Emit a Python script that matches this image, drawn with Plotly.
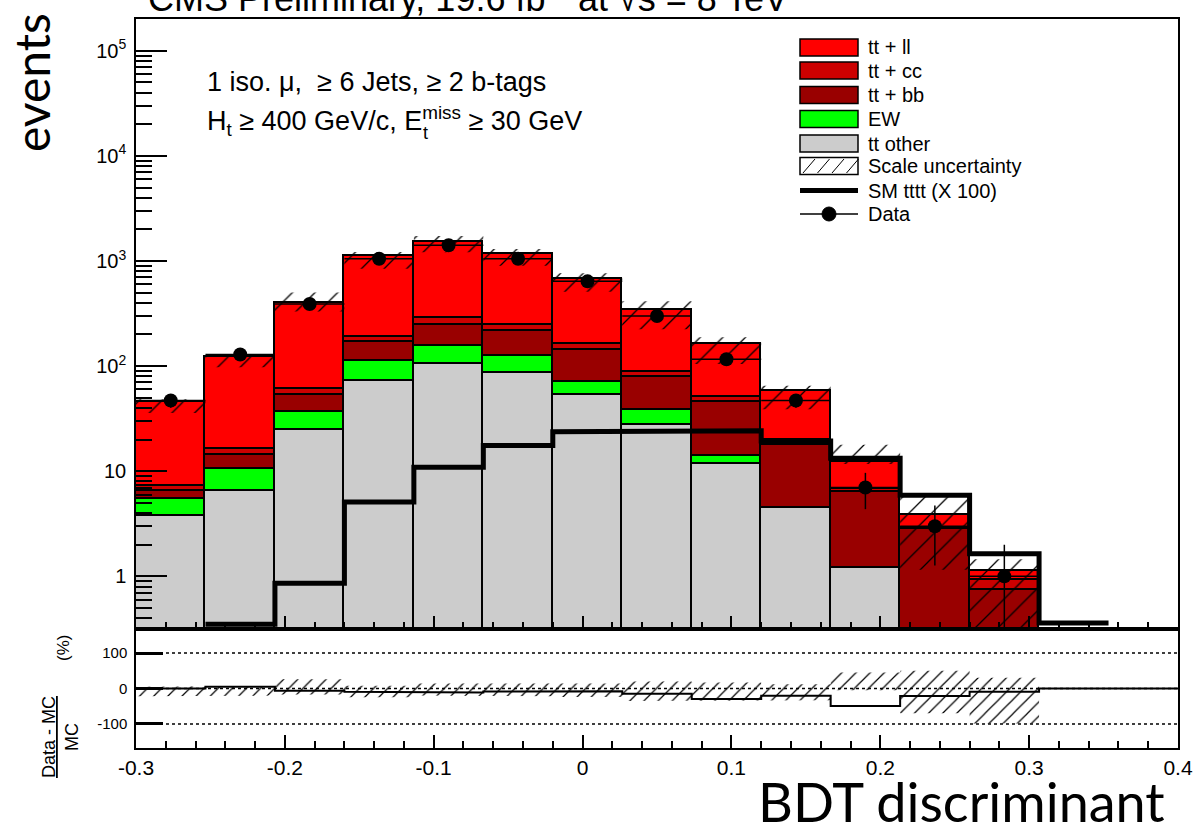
import numpy as np
import plotly.graph_objects as go

# ---------------- data ----------------
bin_edges = [-0.3, -0.25333, -0.20667, -0.16, -0.11333, -0.06667, -0.02, 0.02667,
             0.07333, 0.12, 0.16667, 0.21333, 0.26, 0.30667, 0.35333, 0.4]

tt_other = [3.75, 6.5, 24.6, 72, 105, 86, 53, 27.5, 11.6, 4.5, 1.21, 0, 0, 0, 0]
ew       = [1.7, 4.1, 11.8, 40, 50, 38, 17, 10.7, 2.4, 0, 0, 0, 0, 0, 0]
tt_bb    = [1.05, 3.7, 16.6, 56, 90, 91, 72, 41.3, 31.9, 13.3, 5.2, 2.8, 0.74, 0, 0]
tt_cc    = [0.7, 2.0, 7.0, 22, 39, 30, 22, 8.5, 5.1, 2.1, 0.3, 0.1, 0.19, 0, 0]
tt_ll    = [38.8, 105.7, 339, 936, 1232, 913, 506, 257, 110, 38.1, 5.6, 0.95, 0.19, 0, 0]

sm_tttt_x100 = [None, 0.35, 0.86, 5.1, 10.9, 17.6, 23.8, 24.2, 24.2, 19.4, 13.3, 5.9, 1.64, 0.36, None]

data_counts = [47, 129, 390, 1050, 1410, 1050, 640, 300, 116, 47, 7, 3, 1, None, None]

# scale uncertainty (percent, relative to total MC)
unc_up   = [5, 7, 26, 8, 14, 12, 14, 20, 17, 12, 45, 50, 30, None, None]
unc_down = [-22, -20, -17, -25, -20, -22, -24, -35, -35, -33, -5, -70, -99, None, None]

# (Data - MC)/MC in percent
ratio_pct = [0, 5, -6.5, -9, -11, -8.5, -7.5, -15, -30, -20.5, -49.5, -21.5, -9, 0, 0]

x_tick_vals = [-0.3, -0.2, -0.1, 0, 0.1, 0.2, 0.3, 0.4]
x_tick_text = ["-0.3", "-0.2", "-0.1", "0", "0.1", "0.2", "0.3", "0.4"]

legend_labels = ["tt + ll", "tt + cc", "tt + bb", "EW", "tt other",
                 "Scale uncertainty", "SM tttt (X 100)", "Data"]

# ---------------- helpers ----------------
edges = np.array(bin_edges)
centers = 0.5 * (edges[:-1] + edges[1:])
widths = np.diff(edges)
nb = len(centers)


def step_path(vals, idx=None):
    xs, ys = [], []
    rng = range(nb) if idx is None else idx
    for i in rng:
        v = vals[i]
        xs += [edges[i], edges[i + 1]]
        ys += [v, v]
    return xs, ys


FONT = "Liberation Sans, Arial, Helvetica, sans-serif"
BIG = "Lato, Open Sans, DejaVu Sans, sans-serif"

fig = go.Figure()

stack = [("tt other", tt_other, "#CCCCCC"), ("EW", ew, "#00FF00"),
         ("tt + bb", tt_bb, "#990000"), ("tt + cc", tt_cc, "#CC0000"),
         ("tt + ll", tt_ll, "#FF0000")]
for name, vals, col in stack:
    fig.add_trace(go.Bar(
        x=centers, y=[v if v and v > 0 else None for v in vals], width=widths,
        marker=dict(color=col, line=dict(color="black", width=1.6)),
        name=name, showlegend=False, xaxis="x", yaxis="y", hoverinfo="skip"))

total = [sum(c[1][i] for c in stack) for i in range(nb)]
band_idx = [i for i in range(nb) if unc_up[i] is not None]
hi = [total[i] * (1 + unc_up[i] / 100.0) if unc_up[i] is not None else None for i in range(nb)]
lo = [max(total[i] * (1 + unc_down[i] / 100.0), 1e-3) if unc_down[i] is not None else None for i in range(nb)]

xl, yl = step_path(lo, band_idx)
xh, yh = step_path(hi, band_idx)
fig.add_trace(go.Scatter(x=xl, y=yl, mode="lines", line=dict(width=0), showlegend=False,
                         xaxis="x", yaxis="y", hoverinfo="skip"))
fig.add_trace(go.Scatter(x=xh, y=yh, mode="lines", line=dict(width=0), fill="tonexty",
                         fillcolor="rgba(0,0,0,0)",
                         fillpattern=dict(shape="/", size=16, solidity=0.08, fgcolor="black",
                                          bgcolor="rgba(0,0,0,0)", fillmode="replace"),
                         showlegend=False, xaxis="x", yaxis="y", hoverinfo="skip"))

# SM tttt line
xs, ys = step_path(sm_tttt_x100)
fig.add_trace(go.Scatter(x=xs, y=ys, mode="lines", line=dict(color="black", width=5),
                         showlegend=False, xaxis="x", yaxis="y", hoverinfo="skip"))

# data points
d_idx = [i for i in range(nb) if data_counts[i] is not None]
dy = [data_counts[i] for i in d_idx]
err = [float(np.sqrt(v)) for v in dy]
errm = [min(e, 0.999 * v) for e, v in zip(err, dy)]
fig.add_trace(go.Scatter(
    x=[centers[i] for i in d_idx], y=dy, mode="markers",
    marker=dict(color="black", size=14),
    error_y=dict(type="data", array=err, arrayminus=errm, color="black", thickness=1.5, width=0),
    error_x=dict(type="data", array=[widths[i] / 2 for i in d_idx], color="black", thickness=1.5, width=0),
    showlegend=False, xaxis="x", yaxis="y", hoverinfo="skip"))

# ratio panel band
rl = [unc_down[i] for i in range(nb)]
rh = [unc_up[i] for i in range(nb)]
xl2, yl2 = step_path(rl, band_idx)
xh2, yh2 = step_path(rh, band_idx)
fig.add_trace(go.Scatter(x=xl2, y=yl2, mode="lines", line=dict(width=0), showlegend=False,
                         xaxis="x2", yaxis="y2", hoverinfo="skip"))
fig.add_trace(go.Scatter(x=xh2, y=yh2, mode="lines", line=dict(width=0), fill="tonexty",
                         fillcolor="rgba(0,0,0,0)",
                         fillpattern=dict(shape="/", size=10, solidity=0.12, fgcolor="black",
                                          bgcolor="rgba(0,0,0,0)", fillmode="replace"),
                         showlegend=False, xaxis="x2", yaxis="y2", hoverinfo="skip"))
xr, yr = step_path(ratio_pct)
fig.add_trace(go.Scatter(x=xr, y=yr, mode="lines", line=dict(color="black", width=2),
                         showlegend=False, xaxis="x2", yaxis="y2", hoverinfo="skip"))

# ---------------- layout ----------------
L, R, T, B = 136, 1178, 19, 748
W, H = 1202, 826
split = (B - 629) / (B - T)


def px(xp):
    return (xp - L) / (R - L)


def py(yp):
    return (B - yp) / (B - T)


decades = [1, 10, 100, 1e3, 1e4, 1e5]
dec_text = ["1", "10", "10<sup>2</sup>", "10<sup>3</sup>", "10<sup>4</sup>", "10<sup>5</sup>"]
minor_vals = [m * 10 ** e for e in range(-1, 6) for m in range(2, 10)]

axis_common = dict(showline=True, linecolor="black", linewidth=1.5, mirror=True,
                   showgrid=False, zeroline=False, ticks="inside", tickcolor="black",
                   automargin=False)

fig.update_layout(
    width=W, height=H, plot_bgcolor="white", paper_bgcolor="white",
    margin=dict(l=L, r=W - R, t=T, b=H - B),
    barmode="stack", bargap=0, showlegend=False,
    font=dict(family=FONT, color="black"),
    xaxis=dict(**axis_common, domain=[0, 1], anchor="y", range=[-0.3, 0.4],
               tickmode="array", tickvals=x_tick_vals, ticklen=13, tickwidth=1.5,
               showticklabels=False,
               minor=dict(ticks="inside", dtick=0.02, tick0=-0.3, ticklen=7,
                          tickcolor="black", tickwidth=1.5)),
    yaxis=dict(**axis_common, domain=[split, 1], anchor="x", type="log",
               range=[-0.501, 5.302], tickmode="array", tickvals=decades,
               ticktext=dec_text, ticklen=31, tickwidth=1.5,
               tickfont=dict(size=20, family=FONT), ticklabelstandoff=4,
               minor=dict(ticks="inside", tickmode="array", tickvals=minor_vals,
                          ticklen=16, tickcolor="black", tickwidth=1.5)),
    xaxis2=dict(**axis_common, domain=[0, 1], anchor="y2", range=[-0.3, 0.4],
                matches="x", tickmode="array", tickvals=x_tick_vals, ticktext=x_tick_text,
                ticklen=13, tickwidth=1.5, tickfont=dict(size=21, family=FONT),
                minor=dict(ticks="inside", dtick=0.02, tick0=-0.3, ticklen=7,
                           tickcolor="black", tickwidth=1.5)),
    yaxis2=dict(**axis_common, domain=[0, split], anchor="x2", range=[-168, 168],
                tickmode="array", tickvals=[-100, 0, 100], ticktext=["-100", "0", "100"],
                ticklen=27, tickwidth=2.5, tickfont=dict(size=15, family=FONT),
                ticklabelstandoff=4),
)

shapes = []
for yv in [100, 0, -100]:
    shapes.append(dict(type="line", xref="x2", yref="y2", x0=-0.3, x1=0.4, y0=yv, y1=yv,
                       line=dict(color="black", width=1.5, dash="dot"), layer="above"))

# manual legend
leg_y = [47.5, 70.5, 95, 119, 143.5, 166, 190.5, 214]
leg_cols = ["#FF0000", "#CC0000", "#990000", "#00FF00", "#CCCCCC", "white"]
bx0, bx1 = 800, 858
for i, col in enumerate(leg_cols):
    yc = leg_y[i]
    shapes.append(dict(type="rect", xref="paper", yref="paper", x0=px(bx0), x1=px(bx1),
                       y0=py(yc + 8.5), y1=py(yc - 8.5), fillcolor=col,
                       line=dict(color="black", width=1.5), layer="above"))
yc = leg_y[5]
for k in range(4):
    x0 = 803 + 14.5 * k
    shapes.append(dict(type="line", xref="paper", yref="paper", x0=px(x0), x1=px(x0 + 12),
                       y0=py(yc + 7), y1=py(yc - 7), line=dict(color="black", width=1),
                       layer="above"))
shapes.append(dict(type="line", xref="paper", yref="paper", x0=px(bx0), x1=px(bx1),
                   y0=py(leg_y[6]), y1=py(leg_y[6]), line=dict(color="black", width=5),
                   layer="above"))
shapes.append(dict(type="line", xref="paper", yref="paper", x0=px(bx0), x1=px(bx1),
                   y0=py(leg_y[7]), y1=py(leg_y[7]), line=dict(color="black", width=1.5),
                   layer="above"))
shapes.append(dict(type="circle", xref="paper", yref="paper", x0=px(822), x1=px(836),
                   y0=py(leg_y[7] + 7), y1=py(leg_y[7] - 7), fillcolor="black",
                   line=dict(color="black", width=1), layer="above"))

annotations = []
for lab, yc in zip(legend_labels, leg_y):
    annotations.append(dict(text=lab, xref="paper", yref="paper", x=px(866), y=py(yc),
                            xanchor="left", yanchor="middle", showarrow=False,
                            font=dict(size=20, family=FONT, color="black")))

annotations += [
    dict(text="CMS Preliminary, 19.6 fb<sup>-1</sup> at √s = 8 TeV", xref="paper", yref="paper",
         x=px(146), y=py(21), xanchor="left", yanchor="bottom", showarrow=False,
         font=dict(size=36, family=FONT)),
    dict(text="events", xref="paper", yref="paper", x=px(31), y=py(83), textangle=-90,
         xanchor="center", yanchor="middle", showarrow=False, font=dict(size=48, family=BIG)),
    dict(text="BDT discriminant", xref="paper", yref="paper", x=px(1167), y=py(802),
         xanchor="right", yanchor="middle", showarrow=False, font=dict(size=54, family=BIG)),
    dict(text="1 iso. μ,  ≥ 6 Jets, ≥ 2 b-tags", xref="paper", yref="paper", x=px(205),
         y=py(82), xanchor="left", yanchor="middle", showarrow=False,
         font=dict(size=27, family=FONT)),
    dict(text="H<sub>t</sub> ≥ 400 GeV/c, E<sup>miss</sup> ≥ 30 GeV", xref="paper", yref="paper",
         x=px(205), y=py(121), xanchor="left", yanchor="middle", showarrow=False,
         font=dict(size=27, family=FONT)),
    dict(text="t", xref="paper", yref="paper", x=px(421), y=py(133), xanchor="left",
         yanchor="middle", showarrow=False, font=dict(size=18, family=FONT)),
    dict(text="<u>Data - MC</u><br>MC", xref="paper", yref="paper", x=px(60), y=py(737),
         textangle=-90, xanchor="center", yanchor="middle", showarrow=False,
         font=dict(size=18, family=FONT)),
    dict(text="(%)", xref="paper", yref="paper", x=px(63), y=py(648), textangle=-90,
         xanchor="center", yanchor="middle", showarrow=False, font=dict(size=17, family=FONT)),
]

fig.update_layout(shapes=shapes, annotations=annotations)
fig.write_html("out.html", config={"displayModeBar": False},
               post_script="document.body.style.margin='0px';")
